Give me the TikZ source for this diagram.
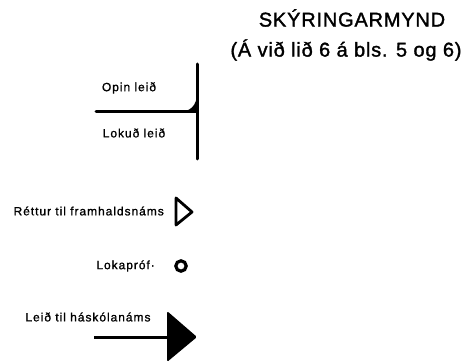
\documentclass[tikz,border=0pt]{standalone}
\usepackage{fontspec}
\setmainfont{Liberation Sans}
\newfontfamily\lblfont[LetterSpace=8,FakeBold=1.2]{Liberation Sans}
\newfontfamily\ttlfont[LetterSpace=4,FakeBold=1.5]{Liberation Sans}
\begin{document}
\begin{tikzpicture}[x=1pt,y=-1pt,
  lbl/.style={font=\lblfont\fontsize{12}{14}\selectfont, inner sep=0pt},
  ttl/.style={font=\ttlfont\fontsize{20}{24}\selectfont, inner sep=0pt},
  thick line/.style={line width=3pt, line cap=round}]
\useasboundingbox (0,0) rectangle (470,363);
% title
\node[ttl] (t1) at (352,18) {SKÝRINGARMYND};
\node[ttl] (t2) at (346,50) {(Á við lið 6 á bls. 5 og 6)};
% open / closed path
\coordinate (vtop) at (197,64);
\coordinate (vbot) at (197,159);
\coordinate (hl) at (96,112);
\coordinate (hr) at (197,112);
\draw[thick line] (vtop) -- (vbot);
\draw[thick line] (hl) -- (hr);
\fill (178,112) .. controls (190,112) and (197,106) .. (197,93) -- (hr) -- cycle;
\node[lbl] (opin) at (129,88) {Opin leið};
\node[lbl] (lokud) at (134,133) {Lokuð leið};
% triangle
\node[lbl, anchor=east] (rettur) at (164,211) {Réttur til framhaldsnáms};
\draw[line width=2.8pt, line join=round] (176,198) -- (192,212) -- (176,225) -- cycle;
% circle
\node[lbl, anchor=east] (lokaprof) at (155,266) {Lokapróf·};
\draw[line width=3.2pt] (181,266) circle (5.2);
% arrow
\node[lbl] (leid) at (88,317) {Leið til háskólanáms};
\coordinate (as) at (94,337);
\coordinate (ae) at (170,337);
\draw[line width=3pt] (as) -- (ae);
\fill[rounded corners=1.5pt] (167,311) -- (197,337) -- (167,362) -- cycle;
\end{tikzpicture}
\end{document}
